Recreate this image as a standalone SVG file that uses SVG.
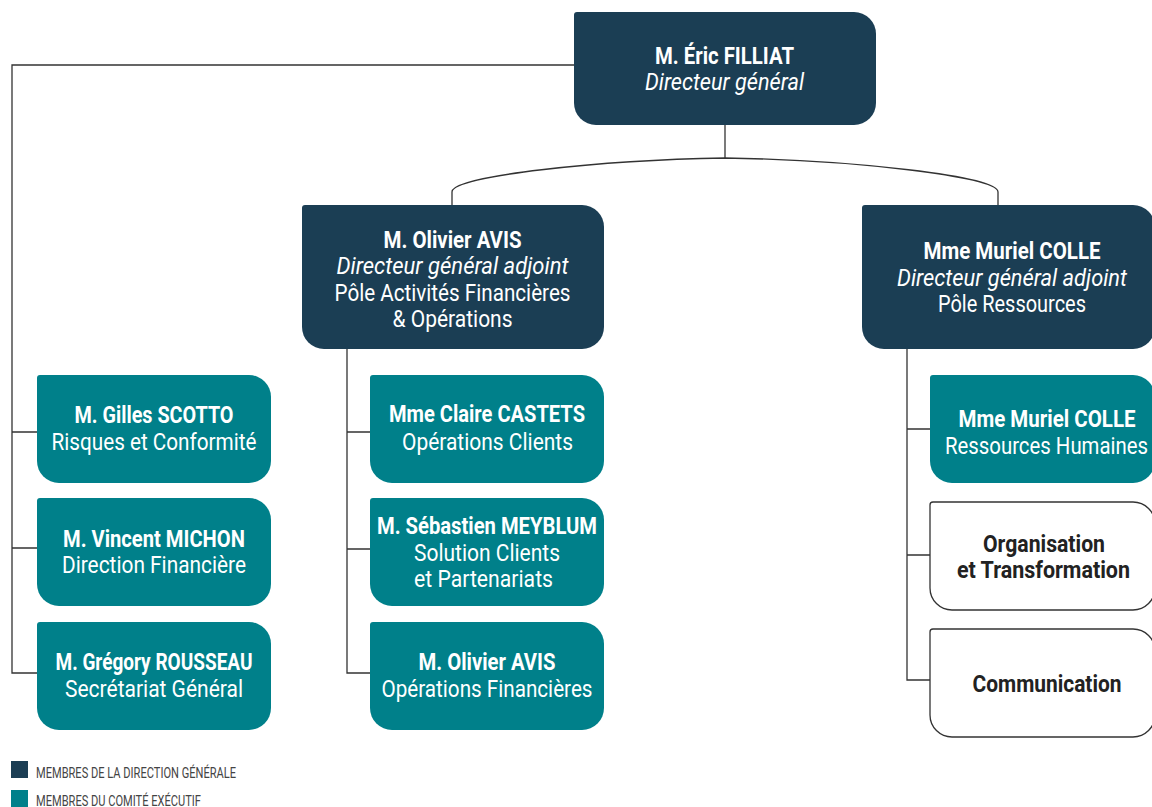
<svg xmlns="http://www.w3.org/2000/svg" width="1152" height="807" viewBox="0 0 1152 807">
<style>
text{font-family:Roboto,"Liberation Sans",sans-serif;text-anchor:middle;font-size:24px;fill:#fff}
.b{font-weight:bold}
.i{font-style:italic}
.dark{fill:#1b3e54}
.teal{fill:#00808a}
.white{fill:#fff;stroke:#333;stroke-width:1.3}
.w text{fill:#222}
.conn{fill:none;stroke:#333;stroke-width:1.3}
.leg{font-size:14px;fill:#444;text-anchor:start}
</style>
<rect width="1152" height="807" fill="#fff"/>
<g id="connectors" class="conn">
<path d="M574,65 H12 V673 H37 M12,432 H37 M12,548 H37"/>
<path d="M725,125 V158"/>
<path d="M452,205 V192 C452,176 600,160 725,158 C850,160 998,176 998,192 V205"/>
<path d="M347,349 V673 H370 M347,432 H370 M347,549 H370"/>
<path d="M907,349 V680 H930 M907,429 H930 M907,555 H930"/>
</g>
<g id="n-filliat">
<path class="dark" d="M577,12 H854 A22,22 0 0 1 876,34 V103 A22,22 0 0 1 854,125 H596 A22,22 0 0 1 574,103 V15 A3,3 0 0 1 577,12 Z"/>
<text x="724.5" y="64" class="b" textLength="139" lengthAdjust="spacingAndGlyphs">M. Éric FILLIAT</text>
<text x="724.5" y="90" class="i" textLength="159" lengthAdjust="spacingAndGlyphs">Directeur général</text>
</g>
<g id="n-avis">
<path class="dark" d="M305,205 H582 A22,22 0 0 1 604,227 V327 A22,22 0 0 1 582,349 H324 A22,22 0 0 1 302,327 V208 A3,3 0 0 1 305,205 Z"/>
<text x="452.5" y="248" class="b" textLength="138" lengthAdjust="spacingAndGlyphs">M. Olivier AVIS</text>
<text x="452.5" y="274" class="i" textLength="232" lengthAdjust="spacingAndGlyphs">Directeur général adjoint</text>
<text x="452.5" y="301" textLength="236" lengthAdjust="spacingAndGlyphs">Pôle Activités Financières</text>
<text x="452.5" y="327" textLength="120" lengthAdjust="spacingAndGlyphs">&amp; Opérations</text>
</g>
<g id="n-colle">
<path class="dark" d="M865,205 H1133 A22,22 0 0 1 1155,227 V327 A22,22 0 0 1 1133,349 H884 A22,22 0 0 1 862,327 V208 A3,3 0 0 1 865,205 Z"/>
<text x="1012" y="259" class="b" textLength="177" lengthAdjust="spacingAndGlyphs">Mme Muriel COLLE</text>
<text x="1012" y="286" class="i" textLength="230" lengthAdjust="spacingAndGlyphs">Directeur général adjoint</text>
<text x="1012" y="312" textLength="148" lengthAdjust="spacingAndGlyphs">Pôle Ressources</text>
</g>
<g id="n-scotto">
<path class="teal" d="M40,375 H249 A22,22 0 0 1 271,397 V461 A22,22 0 0 1 249,483 H59 A22,22 0 0 1 37,461 V378 A3,3 0 0 1 40,375 Z"/>
<text x="154" y="423" class="b" textLength="159" lengthAdjust="spacingAndGlyphs">M. Gilles SCOTTO</text>
<text x="154" y="450" textLength="205" lengthAdjust="spacingAndGlyphs">Risques et Conformité</text>
</g>
<g id="n-michon">
<path class="teal" d="M40,498 H249 A22,22 0 0 1 271,520 V584 A22,22 0 0 1 249,606 H59 A22,22 0 0 1 37,584 V501 A3,3 0 0 1 40,498 Z"/>
<text x="154" y="547" class="b" textLength="182" lengthAdjust="spacingAndGlyphs">M. Vincent MICHON</text>
<text x="154" y="573" textLength="184" lengthAdjust="spacingAndGlyphs">Direction Financière</text>
</g>
<g id="n-rousseau">
<path class="teal" d="M40,622 H249 A22,22 0 0 1 271,644 V708 A22,22 0 0 1 249,730 H59 A22,22 0 0 1 37,708 V625 A3,3 0 0 1 40,622 Z"/>
<text x="154" y="670" class="b" textLength="197" lengthAdjust="spacingAndGlyphs">M. Grégory ROUSSEAU</text>
<text x="154" y="697" textLength="178" lengthAdjust="spacingAndGlyphs">Secrétariat Général</text>
</g>
<g id="n-castets">
<path class="teal" d="M373,375 H582 A22,22 0 0 1 604,397 V461 A22,22 0 0 1 582,483 H392 A22,22 0 0 1 370,461 V378 A3,3 0 0 1 373,375 Z"/>
<text x="487" y="422" class="b" textLength="196" lengthAdjust="spacingAndGlyphs">Mme Claire CASTETS</text>
<text x="487.5" y="450" textLength="171" lengthAdjust="spacingAndGlyphs">Opérations Clients</text>
</g>
<g id="n-meyblum">
<path class="teal" d="M373,498 H582 A22,22 0 0 1 604,520 V584 A22,22 0 0 1 582,606 H392 A22,22 0 0 1 370,584 V501 A3,3 0 0 1 373,498 Z"/>
<text x="487" y="534" class="b" textLength="220" lengthAdjust="spacingAndGlyphs">M. Sébastien MEYBLUM</text>
<text x="487" y="561" textLength="146" lengthAdjust="spacingAndGlyphs">Solution Clients</text>
<text x="483.5" y="587" textLength="139" lengthAdjust="spacingAndGlyphs">et Partenariats</text>
</g>
<g id="n-avis2">
<path class="teal" d="M373,622 H582 A22,22 0 0 1 604,644 V708 A22,22 0 0 1 582,730 H392 A22,22 0 0 1 370,708 V625 A3,3 0 0 1 373,622 Z"/>
<text x="487" y="670" class="b" textLength="137" lengthAdjust="spacingAndGlyphs">M. Olivier AVIS</text>
<text x="487" y="697" textLength="211" lengthAdjust="spacingAndGlyphs">Opérations Financières</text>
</g>
<g id="n-rh">
<path class="teal" d="M933,375 H1133 A22,22 0 0 1 1155,397 V461 A22,22 0 0 1 1133,483 H952 A22,22 0 0 1 930,461 V378 A3,3 0 0 1 933,375 Z"/>
<text x="1047" y="427" class="b" textLength="177" lengthAdjust="spacingAndGlyphs">Mme Muriel COLLE</text>
<text x="1046.5" y="454" textLength="203" lengthAdjust="spacingAndGlyphs">Ressources Humaines</text>
</g>
<g id="n-orga" class="w">
<path class="white" d="M933,502 H1133 A22,22 0 0 1 1155,524 V588 A22,22 0 0 1 1133,610 H952 A22,22 0 0 1 930,588 V505 A3,3 0 0 1 933,502 Z"/>
<text x="1044" y="552" class="b" textLength="122" lengthAdjust="spacingAndGlyphs">Organisation</text>
<text x="1043.5" y="578" class="b" textLength="173" lengthAdjust="spacingAndGlyphs">et Transformation</text>
</g>
<g id="n-comm" class="w">
<path class="white" d="M933,629 H1133 A22,22 0 0 1 1155,651 V715 A22,22 0 0 1 1133,737 H952 A22,22 0 0 1 930,715 V632 A3,3 0 0 1 933,629 Z"/>
<text x="1047" y="692" class="b" textLength="149" lengthAdjust="spacingAndGlyphs">Communication</text>
</g>
<g id="legend">
<rect x="11" y="761" width="17" height="17" class="dark"/>
<text x="36" y="778" class="leg" textLength="200" lengthAdjust="spacingAndGlyphs">MEMBRES DE LA DIRECTION GÉNÉRALE</text>
<rect x="11" y="790" width="17" height="17" class="teal"/>
<text x="36" y="806" class="leg" textLength="165" lengthAdjust="spacingAndGlyphs">MEMBRES DU COMITÉ EXÉCUTIF</text>
</g>
</svg>
